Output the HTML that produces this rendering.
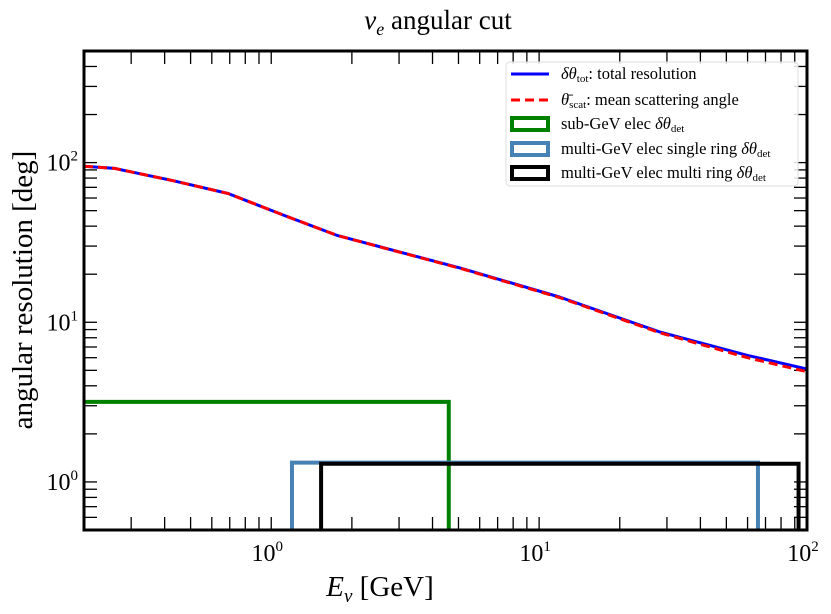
<!DOCTYPE html>
<html><head><meta charset="utf-8">
<style>
html,body{margin:0;padding:0;background:#fff;}
svg{display:block;font-family:"Liberation Serif","DejaVu Serif",serif;}
</style></head>
<body>
<svg id="chart" width="831" height="614" viewBox="0 0 831 614">
<text x="438" y="29" text-anchor="middle" font-size="27"><tspan font-style="italic">ν</tspan><tspan font-style="italic" font-size="18" dy="6">e</tspan><tspan dy="-6"> angular cut</tspan></text>
<text transform="translate(32,290) rotate(-90)" text-anchor="middle" font-size="29">angular resolution [deg]</text>
<text x="380" y="596" text-anchor="middle" font-size="29"><tspan font-style="italic">E</tspan><tspan font-style="italic" font-size="19" dy="6">ν</tspan><tspan dy="-6"> [GeV]</tspan></text>
<defs><clipPath id="clip"><rect x="84" y="51" width="723" height="479"/></clipPath></defs>
<g id="ticks"></g>
<g id="marks" clip-path="url(#clip)"></g>
<rect x="84" y="51" width="723" height="479" fill="none" stroke="#000" stroke-width="3"/>
<g id="legend">
<rect x="506" y="62" width="292" height="124" rx="4" fill="#fff" fill-opacity="0.85" stroke="#ddd" stroke-width="1"/>
<g><line x1="511" y1="74" x2="549" y2="74" stroke="#0000ff" stroke-width="3"/><text x="561" y="79" font-size="16.5"><tspan font-style="italic">δθ</tspan><tspan font-size="11" dy="3">tot</tspan><tspan dy="-3">: total resolution</tspan></text></g>
<g><line x1="511" y1="100" x2="549" y2="100" stroke="#ff0000" stroke-width="3" stroke-dasharray="9,5"/><text x="561" y="105" font-size="16.5"><tspan font-style="italic">θ̄</tspan><tspan font-size="11" dy="3">scat</tspan><tspan dy="-3">: mean scattering angle</tspan></text></g>
<g><rect x="512" y="118" width="36" height="12" fill="none" stroke="#008000" stroke-width="4"/><text x="561" y="129" font-size="16.5">sub-GeV elec <tspan font-style="italic">δθ</tspan><tspan font-size="11" dy="3">det</tspan></text></g>
<g><rect x="512" y="143" width="36" height="12" fill="none" stroke="#4682b4" stroke-width="4"/><text x="561" y="154" font-size="16.5">multi-GeV elec single ring <tspan font-style="italic">δθ</tspan><tspan font-size="11" dy="3">det</tspan></text></g>
<g><rect x="512" y="167" width="36" height="12" fill="none" stroke="#000" stroke-width="4"/><text x="561" y="178" font-size="16.5">multi-GeV elec multi ring <tspan font-style="italic">δθ</tspan><tspan font-size="11" dy="3">det</tspan></text></g>
</g>
</svg>
<script>
const energies = [0.2, 0.26, 0.43, 0.69, 1.12, 1.77, 5.1, 11.9, 28.2, 60, 100];
const totalRes = [95, 92, 77, 64, 46.6, 34.9, 21.8, 14.4, 8.7, 6.2, 5.1];
const scatAngle = [95, 92, 77, 64, 46.6, 34.9, 21.7, 14.3, 8.6, 6.0, 4.9];
const boxLabels = ["sub-GeV", "single-ring", "multi-ring"];
const boxEmin = [0.1, 1.195, 1.535];
const boxEmax = [4.6, 65.6, 93];
const boxRes = [3.17, 1.32, 1.3];
const boxColors = ["#008000", "#4682b4", "#000000"];
const xMajorTicks = [1, 10, 100];
const yMajorTicks = [1, 10, 100];

const X0=84, X1=807, Y0=530, Y1=51;
const xMin=0.2, xMax=100, yMin=0.5, yMax=500;
const L=Math.log10;
function xs(v){return X0+(L(v)-L(xMin))/(L(xMax)-L(xMin))*(X1-X0);}
function ys(v){return Y0-(L(v)-L(yMin))/(L(yMax)-L(yMin))*(Y0-Y1);}
const NS="http://www.w3.org/2000/svg";
const marks=document.getElementById('marks');
const ticks=document.getElementById('ticks');
function mk(tag,attrs,parent){const e=document.createElementNS(NS,tag);for(const k in attrs)e.setAttribute(k,attrs[k]);parent.appendChild(e);return e;}

for(let i=0;i<boxLabels.length;i++){
  const x1=xs(boxEmin[i]), x2=xs(boxEmax[i]), y=ys(boxRes[i]), yb=Y0+20;
  const p=mk('path',{d:`M${x1},${yb} L${x1},${y} L${x2},${y} L${x2},${yb}`,fill:'none',stroke:boxColors[i],'stroke-width':4},marks);
  
  
}
function pathFrom(xv,yv){return xv.map((v,i)=>(i?'L':'M')+xs(v).toFixed(1)+','+ys(yv[i]).toFixed(1)).join(' ');}
const lt=mk('path',{d:pathFrom(energies,totalRes),fill:'none',stroke:'#0000ff','stroke-width':3,'stroke-linejoin':'round'},marks);


const ls=mk('path',{d:pathFrom(energies,scatAngle),fill:'none',stroke:'#ff0000','stroke-width':3,'stroke-dasharray':'9,5'},marks);



const T=13;
for(let d=-1; d<=2; d++){
  for(let m=1;m<=9;m++){
    const v=m*Math.pow(10,d);
    if(v>=xMin-1e-9 && v<=xMax+1e-9){
      const x=xs(v);
      mk('line',{x1:x,y1:Y0,x2:x,y2:Y0-T,stroke:'#000','stroke-width':1.3},ticks);
      mk('line',{x1:x,y1:Y1,x2:x,y2:Y1+T,stroke:'#000','stroke-width':1.3},ticks);
    }
    if(v>=yMin-1e-9 && v<=yMax+1e-9){
      const y=ys(v);
      mk('line',{x1:X0,y1:y,x2:X0+T,y2:y,stroke:'#000','stroke-width':1.3},ticks);
      mk('line',{x1:X1,y1:y,x2:X1-T,y2:y,stroke:'#000','stroke-width':1.3},ticks);
    }
  }
}
xMajorTicks.forEach(v=>{
  const t=mk('text',{x:xs(v)-4,y:Y0+31,'text-anchor':'middle','font-size':24},document.getElementById('chart'));
  
  
  t.innerHTML='10<tspan font-size="15" dy="-10">'+Math.round(L(v))+'</tspan>';
});
yMajorTicks.forEach(v=>{
  const t=mk('text',{x:X0-6,y:ys(v)+8,'text-anchor':'end','font-size':24},document.getElementById('chart'));
  
  
  t.innerHTML='10<tspan font-size="15" dy="-10">'+Math.round(L(v))+'</tspan>';
});
</script>
</body></html>
